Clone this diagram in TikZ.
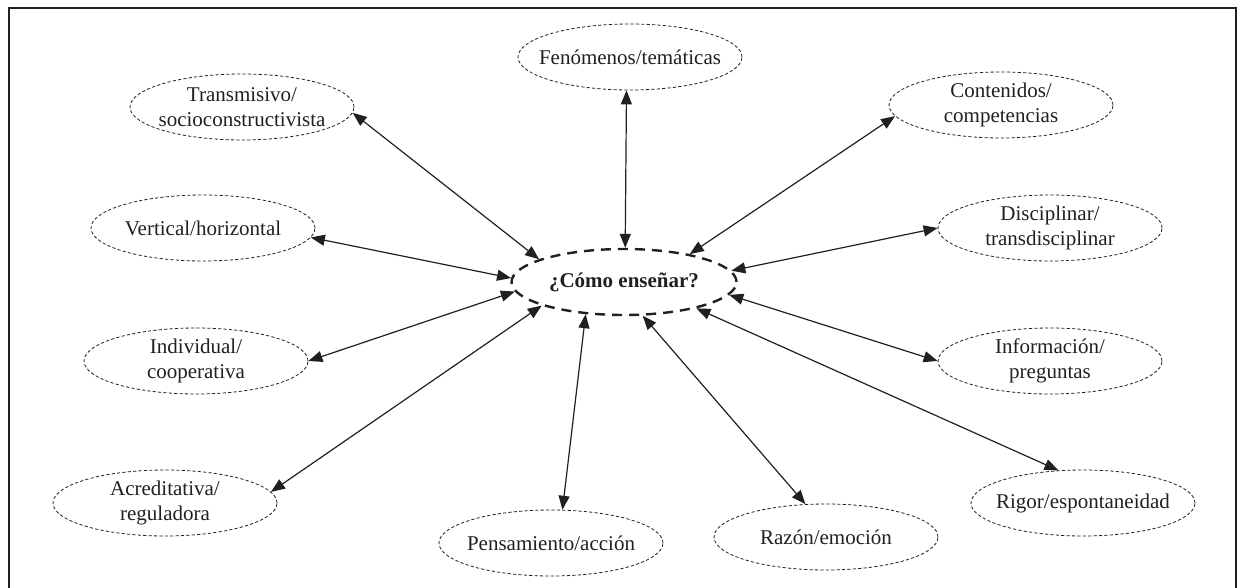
\documentclass[tikz,border=0pt]{standalone}
\usepackage{fontspec}
\setmainfont{Liberation Serif}
\usetikzlibrary{shapes.geometric,arrows.meta}
\definecolor{ink}{HTML}{231F20}
\begin{document}
\begin{tikzpicture}[x=1pt,y=-1pt,
  opt/.style={ellipse, draw=ink, line width=0.8pt, dash pattern=on 3.2pt off 2.2pt,
    minimum width=224pt, minimum height=66pt, inner sep=-30pt, align=center,
    font=\fontsize{21}{25.5}\selectfont, text=ink},
  hub/.style={ellipse, draw=ink, line width=2.4pt, dash pattern=on 10pt off 7pt,
    minimum width=225pt, minimum height=66pt, inner sep=-30pt,
    font=\fontsize{21}{25}\selectfont\bfseries, text=ink},
  link/.style={draw=ink, line width=1.2pt,
    {Triangle[length=14pt,width=11pt]}-{Triangle[length=14pt,width=11pt]}}]
\useasboundingbox (0,0) rectangle (1244,588);
\draw[ink, line width=1.2pt] (9,595) -- (9,8) -- (1236,8) -- (1236,595);

\node[hub] (cen) at (624,282) {¿Cómo enseñar?};

\node[opt] (fen) at (630,57)  {Fenómenos/temáticas};
\node[opt] (tra) at (242,107) {Transmisivo/\\socioconstructivista};
\node[opt] (con) at (1001,105) {Contenidos/\\competencias};
\node[opt] (ver) at (203,228) {Vertical/horizontal};
\node[opt] (dis) at (1050,228) {Disciplinar/\\transdisciplinar};
\node[opt] (ind) at (196,361) {Individual/\\cooperativa};
\node[opt] (inf) at (1050,361) {Información/\\preguntas};
\node[opt] (acr) at (165,503) {Acreditativa/\\reguladora};
\node[opt] (pen) at (551,543) {Pensamiento/acción};
\node[opt] (raz) at (826,537) {Razón/emoción};
\node[opt] (rig) at (1083,503) {Rigor/espontaneidad};

\draw[link] (fen.-96) -- (cen.88);
\draw[link] (tra.-3) -- (cen.165);
\draw[link] (con.186) -- (cen.23);
\draw[link] (ver.-5) -- (cen.178);
\draw[link] (ind.0) -- (cen.185);
\draw[link] (acr.6) -- (cen.196);
\draw[link] (dis.180) -- (cen.6);
\draw[link] (inf.180) -- (cen.-7.5);
\draw[link] (rig.127) -- (cen.-20.6);
\draw[link] (raz.122.6) -- (cen.-61);
\draw[link] (pen.71) -- (cen.220);
\end{tikzpicture}
\end{document}
